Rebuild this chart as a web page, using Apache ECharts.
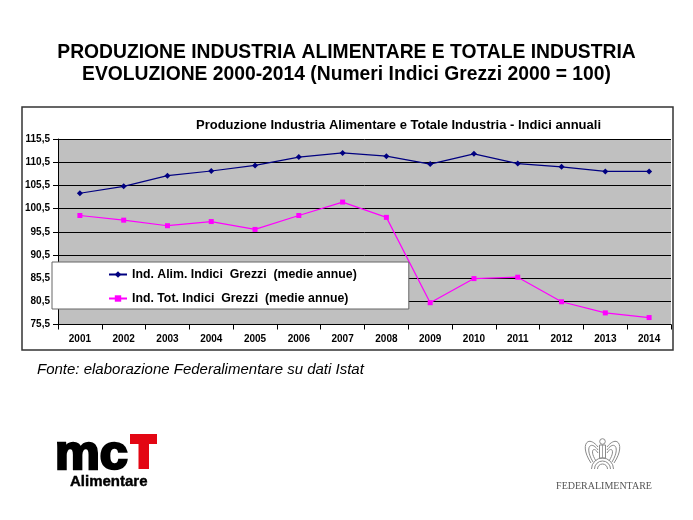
<!DOCTYPE html>
<html>
<head>
<meta charset="utf-8">
<script src="https://cdn.jsdelivr.net/npm/echarts@6/dist/echarts.min.js"></script>
<style>html,body{margin:0;padding:0;background:#fff}#c{width:693px;height:520px}</style>
</head>
<body>
<div id="c"></div>
<script>
var years = ['2001','2002','2003','2004','2005','2006','2007','2008','2009','2010','2011','2012','2013','2014'];
var alim = [103.8, 105.3, 107.6, 108.6, 109.8, 111.6, 112.5, 111.8, 110.1, 112.3, 110.2, 109.5, 108.5, 108.5];
var tot = [99.0, 98.0, 96.8, 97.7, 96.0, 99.0, 101.9, 98.6, 80.2, 85.4, 85.7, 80.4, 78.0, 77.0];
var seriesNames = ['Ind. Alim. Indici  Grezzi  (medie annue)', 'Ind. Tot. Indici  Grezzi  (medie annue)'];
var yMin = 75.5, yMax = 115.5, yStep = 5;
var mainTitle1 = 'PRODUZIONE INDUSTRIA ALIMENTARE E TOTALE INDUSTRIA';
var mainTitle2 = 'EVOLUZIONE 2000-2014 (Numeri Indici Grezzi 2000 = 100)';
var chartTitle = 'Produzione Industria Alimentare e Totale Industria - Indici annuali';
var source = 'Fonte: elaborazione Federalimentare su dati Istat';

var FF = '"Liberation Sans", Arial, sans-serif';
var chart = echarts.init(document.getElementById('c'), null, {renderer: 'canvas'});
var grey = '#8a8a8a';
chart.setOption({
  animation: false,
  backgroundColor: '#fff',
  grid: {left: 58, right: 22, top: 139, bottom: 195.5, show: true, backgroundColor: '#c0c0c0', borderWidth: 0},
  legend: {
    left: 52, top: 262, orient: 'vertical',
    padding: [6.5, 52, 4.5, 56], itemGap: 12, itemWidth: 18, itemHeight: 8,
    backgroundColor: '#fff', borderColor: '#666', borderWidth: 1,
    textStyle: {fontFamily: FF, fontWeight: 'bold', fontSize: 12.3, color: '#000'},
    data: seriesNames
  },
  xAxis: {
    type: 'category', data: years, boundaryGap: true,
    axisLine: {lineStyle: {color: '#000', width: 1}},
    axisTick: {show: true, length: 5, lineStyle: {color: '#000'}},
    axisLabel: {margin: 10, fontFamily: FF, fontWeight: 'bold', fontSize: 10, color: '#000'}
  },
  yAxis: {
    type: 'value', min: yMin, max: yMax, interval: yStep,
    axisLine: {show: true, lineStyle: {color: '#000', width: 1}},
    axisTick: {show: true, length: 5, lineStyle: {color: '#000'}},
    axisLabel: {margin: 8, fontFamily: FF, fontWeight: 'bold', fontSize: 10, color: '#000',
      formatter: function (v) { return v.toFixed(1).replace('.', ','); }},
    splitLine: {show: true, lineStyle: {color: '#000', width: 1}}
  },
  series: [
    {name: seriesNames[0], type: 'line', data: alim, symbol: 'diamond', symbolSize: 6,
     itemStyle: {color: '#000080'}, lineStyle: {color: '#000080', width: 1.2}},
    {name: seriesNames[1], type: 'line', data: tot, symbol: 'rect', symbolSize: 5,
     itemStyle: {color: '#ff00ff'}, lineStyle: {color: '#ff00ff', width: 1.2}}
  ],
  graphic: [
    {type: 'rect', shape: {x: 22, y: 107, width: 651, height: 243}, style: {fill: 'none', stroke: '#333', lineWidth: 1.5}, z: 100},
    {type: 'text', x: 346.5, y: 53, style: {text: mainTitle1, font: 'bold 19.3px ' + FF, fill: '#000', textAlign: 'center', textVerticalAlign: 'middle'}},
    {type: 'text', x: 346.5, y: 75, style: {text: mainTitle2, font: 'bold 19.3px ' + FF, fill: '#000', textAlign: 'center', textVerticalAlign: 'middle'}},
    {type: 'text', x: 398.5, y: 125, style: {text: chartTitle, font: 'bold 13px ' + FF, fill: '#000', textAlign: 'center', textVerticalAlign: 'middle'}},
    {type: 'text', x: 37, y: 370, style: {text: source, font: 'italic 15px ' + FF, fill: '#000', textAlign: 'left', textVerticalAlign: 'middle'}},
    // mcT logo
    {type: 'text', x: 55, y: 456, scaleX: 1.05, style: {text: 'mc', font: 'bold 48px ' + FF, fill: '#000', stroke: '#000', lineWidth: 2.5, textAlign: 'left', textVerticalAlign: 'middle'}},
    {type: 'rect', shape: {x: 130, y: 434, width: 27, height: 10}, style: {fill: '#e30613'}},
    {type: 'rect', shape: {x: 138.5, y: 434, width: 10.5, height: 35}, style: {fill: '#e30613'}},
    {type: 'text', x: 70, y: 482, style: {text: 'Alimentare', font: 'bold 15px ' + FF, fill: '#000', stroke: '#000', lineWidth: 0.4, textAlign: 'left', textVerticalAlign: 'middle'}},
    // Federalimentare emblem
    {type: 'circle', shape: {cx: 602.5, cy: 441.5, r: 2.8}, style: {fill: 'none', stroke: grey, lineWidth: 1}},
    {type: 'rect', shape: {x: 599.5, y: 445, width: 6, height: 13}, style: {fill: 'none', stroke: grey, lineWidth: 1}},
    {type: 'line', shape: {x1: 602.5, y1: 445, x2: 602.5, y2: 458}, style: {stroke: grey, lineWidth: 0.8}},
    {type: 'bezierCurve', shape: {x1: 598, y1: 447, cpx1: 588, cpy1: 434, cpx2: 579, cpy2: 445, x2: 591, y2: 463}, style: {fill: 'none', stroke: grey, lineWidth: 1}},
    {type: 'bezierCurve', shape: {x1: 598, y1: 450, cpx1: 591, cpy1: 440, cpx2: 584, cpy2: 447, x2: 593, y2: 462}, style: {fill: 'none', stroke: grey, lineWidth: 1}},
    {type: 'bezierCurve', shape: {x1: 598, y1: 453, cpx1: 594, cpy1: 446, cpx2: 589, cpy2: 450, x2: 596, y2: 461}, style: {fill: 'none', stroke: grey, lineWidth: 1}},
    {type: 'bezierCurve', shape: {x1: 607, y1: 447, cpx1: 617, cpy1: 434, cpx2: 626, cpy2: 445, x2: 614, y2: 463}, style: {fill: 'none', stroke: grey, lineWidth: 1}},
    {type: 'bezierCurve', shape: {x1: 607, y1: 450, cpx1: 614, cpy1: 440, cpx2: 621, cpy2: 447, x2: 612, y2: 462}, style: {fill: 'none', stroke: grey, lineWidth: 1}},
    {type: 'bezierCurve', shape: {x1: 607, y1: 453, cpx1: 611, cpy1: 446, cpx2: 616, cpy2: 450, x2: 609, y2: 461}, style: {fill: 'none', stroke: grey, lineWidth: 1}},
    {type: 'arc', shape: {cx: 602.5, cy: 469, r: 5, startAngle: Math.PI, endAngle: 2 * Math.PI}, style: {fill: 'none', stroke: grey, lineWidth: 1}},
    {type: 'arc', shape: {cx: 602.5, cy: 469, r: 8, startAngle: Math.PI, endAngle: 2 * Math.PI}, style: {fill: 'none', stroke: grey, lineWidth: 1}},
    {type: 'arc', shape: {cx: 602.5, cy: 469, r: 11, startAngle: Math.PI, endAngle: 2 * Math.PI}, style: {fill: 'none', stroke: grey, lineWidth: 1}},
    {type: 'text', x: 604, y: 486, style: {text: 'FEDERALIMENTARE', font: '10px "Liberation Serif", "Times New Roman", serif', fill: '#555', textAlign: 'center', textVerticalAlign: 'middle'}}
  ]
});
</script>
</body>
</html>
